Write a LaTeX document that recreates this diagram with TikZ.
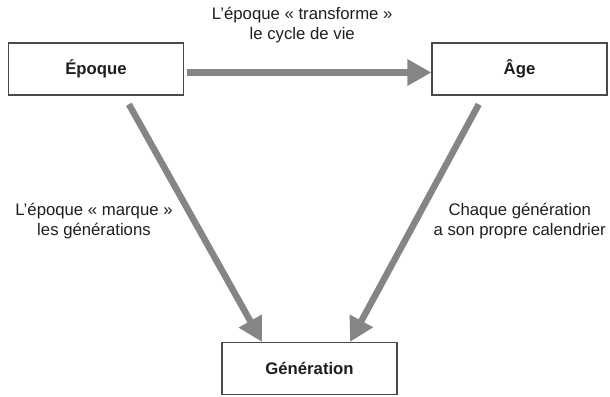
\documentclass[tikz,border=0pt]{standalone}
\usepackage{fontspec}
\setmainfont{Liberation Sans}
\usepackage{xcolor}
\definecolor{arrowgray}{HTML}{858585}
\definecolor{border}{HTML}{4A4A4A}
\definecolor{ink}{HTML}{1E1E1E}
\usepackage{tikz}
\usetikzlibrary{
    arrows.meta,
    positioning,
}

\begin{document}
\begin{tikzpicture}[%
    x=1bp, y=1bp,
    node distance=1bp,
    on grid,
    every node/.style={
        font=\fontsize{16.8}{20}\selectfont,
        text=ink,
        inner sep=0,
    },
    box/.style={
        draw=border,
        line width=1.1bp,
        fill=white,
        minimum width=175bp,
        minimum height=52bp,
        font=\fontsize{16.8}{20}\selectfont\bfseries,
    },
    lbl/.style={align=center},
    link/.style={
        draw=arrowgray,
        line width=6.5bp,
        -{Triangle[length=24bp,width=25bp]},
    },
]

\useasboundingbox (0, 0) rectangle (610, 396);

% the three boxes
\node [box] (epoque) at (96, 327) {Époque};
\node [box, right=423.5bp of epoque] (age) {Âge};
\node [box, below right=299.5bp and 213.5bp of epoque] (generation) {Génération};

% arrows with their labels
\draw [link, shorten <=3bp] ([yshift=-3.5bp]epoque.east) -- ([yshift=-3.5bp]age.west)
    node [lbl, midway, above=26bp, xshift=-5.5bp] (transforme)
        {L’époque «~transforme~»\\le cycle de vie};

\draw [link, shorten <=10bp] ([xshift=28bp]epoque.south) -- ([xshift=-47.5bp]generation.north)
    node [lbl, pos=0.51, left=18.5bp] (marque)
        {L’époque «~marque~»\\les générations};

\draw [link, shorten <=10bp] ([xshift=-36bp]age.south) -- ([xshift=40.5bp]generation.north)
    node [lbl, pos=0.51, right=15bp] (calendrier)
        {Chaque génération\\a son propre calendrier};

\end{tikzpicture}
\end{document}
